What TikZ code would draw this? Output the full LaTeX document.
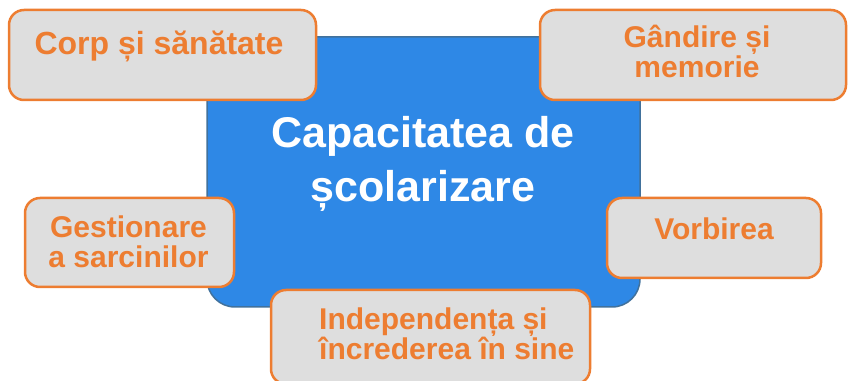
\documentclass[tikz,border=0pt]{standalone}
\usepackage{fontspec}
\setmainfont{Liberation Sans}
\definecolor{bluefill}{HTML}{2E88E6}
\definecolor{blueedge}{HTML}{41719C}
\definecolor{orangec}{HTML}{ED7D31}
\definecolor{grayfill}{HTML}{DEDEDE}
\tikzset{
  obox/.style={draw=orangec, fill=grayfill, line width=2.5pt, rounded corners=15pt, inner sep=0pt},
  otext/.style={text=orangec, font=\bfseries\fontsize{30}{30}\selectfont, align=center, inner sep=0pt, anchor=base},
  ctext/.style={text=white, font=\bfseries\fontsize{43}{54}\selectfont, align=center, inner sep=0pt, anchor=base}
}
\begin{document}
\begin{tikzpicture}[x=1pt,y=1pt]
\useasboundingbox (0,0) rectangle (848,380);
% central shape
\draw[fill=bluefill, draw=blueedge, line width=1.5pt]
  (207,343) -- (640,343) -- (640,101) arc[start angle=0, end angle=-90, radius=28]
  -- (235,73) arc[start angle=270, end angle=180, radius=28] -- cycle;
\node[ctext] (center) at (423,178) {Capacitatea de\\școlarizare};
% boxes
\node[obox, minimum width=307pt, minimum height=90pt] (corp) at (162.5,325) {};
\node[obox, minimum width=306pt, minimum height=90pt] (gand) at (693,325) {};
\node[obox, minimum width=209pt, minimum height=89pt] (gest) at (129.5,137.5) {};
\node[obox, minimum width=214pt, minimum height=80pt] (vorb) at (714,142) {};
\node[obox, minimum width=319pt, minimum height=94pt] (indep) at (430.5,43) {};
% texts
\node[otext, font=\bfseries\fontsize{32}{32}\selectfont] (corpt) at (159,325) {Corp și sănătate};
\node[otext] (gandt) at (697,302) {Gândire și\\memorie};
\node[otext] (gestt) at (128.5,112) {Gestionare\\a sarcinilor};
\node[otext] (vorbt) at (714,140) {Vorbirea};
\node[otext, align=left, anchor=base west] (indept) at (319,20) {Independența și\\încrederea în sine};
\end{tikzpicture}
\end{document}
